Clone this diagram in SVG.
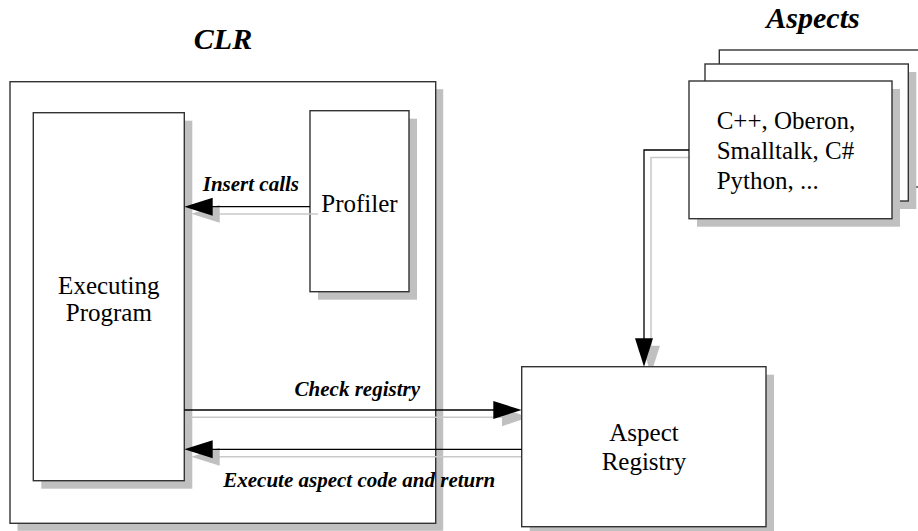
<svg xmlns="http://www.w3.org/2000/svg" width="918" height="531" viewBox="0 0 918 531">
  <style>
    .box { fill: #ffffff; stroke: #333333; stroke-width: 1.4; }
    .shadow { fill: #c0c0c0; stroke: none; }
    .wire { fill: none; stroke: #000000; stroke-width: 1.3; }
    .wire-shadow { fill: none; stroke: #c8c8c8; stroke-width: 1.5; }
    .head { fill: #000000; }
    .head-shadow { fill: #c0c0c0; }
    text { font-family: 'Liberation Serif', Tinos, 'Times New Roman', Times, 'DejaVu Serif', serif; fill: #000; }
    .title { font-weight: bold; font-style: italic; font-size: 30px; text-anchor: middle; }
    .label { font-weight: bold; font-style: italic; font-size: 21px; }
    .txt { font-size: 25px; }
    .mid { text-anchor: middle; }
  </style>

  <rect width="918" height="531" fill="#ffffff"/>

  <!-- titles -->
  <text class="title" x="223" y="49">CLR</text>
  <text class="title" x="813" y="28">Aspects</text>

  <!-- CLR container -->
  <g id="clr">
    <rect class="shadow" x="17.5" y="89.2" width="425.7" height="441.6"/>
    <rect class="box" x="10" y="81.7" width="425.7" height="441.6"/>
  </g>

  <!-- executing program -->
  <g id="executing-program">
    <rect class="shadow" x="41.3" y="120.7" width="151" height="368"/>
    <rect class="box" x="33.3" y="112.7" width="151" height="368"/>
    <text class="txt mid" x="108.8" y="293.5">Executing</text>
    <text class="txt mid" x="108.8" y="320.5">Program</text>
  </g>

  <!-- profiler -->
  <g id="profiler">
    <rect class="shadow" x="318" y="118.7" width="99" height="181"/>
    <rect class="box" x="310" y="110.7" width="99" height="181"/>
    <text class="txt mid" x="359.5" y="211.7" font-size="26">Profiler</text>
  </g>

  <!-- connector shadows -->
  <g id="connector-shadows">
    <path class="wire-shadow" d="M318,214 H219"/>
    <polygon class="head-shadow" points="191.3,213.7 219.7,204.7 219.7,222.7"/>
    <path class="wire-shadow" d="M191,417.3 H502"/>
    <polygon class="head-shadow" points="528.7,417.3 502,408.3 502,426.3"/>
    <path class="wire-shadow" d="M521.7,456.7 H219"/>
    <polygon class="head-shadow" points="191.3,456.7 219.7,447.7 219.7,465.7"/>
    <path class="wire-shadow" d="M689,157.5 H651 V346"/>
    <polygon class="head-shadow" points="651,373.7 642,345.7 660,345.7"/>
  </g>

  <!-- aspect registry -->
  <g id="aspect-registry">
    <rect class="shadow" x="529.7" y="374.7" width="244.3" height="160"/>
    <rect class="box" x="521.7" y="366.7" width="244.3" height="160"/>
    <text class="txt mid" x="644" y="441">Aspect</text>
    <text class="txt mid" x="644" y="469.5">Registry</text>
  </g>

  <!-- aspect sources (stacked sheets) -->
  <g id="aspects">
    <rect class="box" x="719.3" y="50" width="220" height="137"/>
    <rect class="shadow" x="713" y="72" width="203.3" height="137"/>
    <rect class="box" x="705" y="64" width="203.3" height="137"/>
    <rect class="shadow" x="697" y="89" width="203" height="137.7"/>
    <rect class="box" x="689" y="81" width="203" height="137.7"/>
    <text class="txt" x="716.7" y="129.3">C++, Oberon,</text>
    <text class="txt" x="716.7" y="159.3">Smalltalk, C#</text>
    <text class="txt" x="716.7" y="189.3">Python, ...</text>
  </g>

  <!-- connectors -->
  <g id="connectors">
    <path class="wire" d="M310,206.7 H212"/>
    <polygon class="head" points="184.3,206.7 212.7,197.7 212.7,215.7"/>
    <text class="label" x="299" y="190.7" text-anchor="end">Insert calls</text>

    <path class="wire" d="M184.3,410 H495"/>
    <polygon class="head" points="521.7,410 493.3,401 493.3,419"/>
    <text class="label" x="420" y="395.7" text-anchor="end">Check registry</text>

    <path class="wire" d="M521.7,449.3 H212"/>
    <polygon class="head" points="184.3,449.3 212.7,440.3 212.7,458.3"/>
    <text class="label" x="223.3" y="486.7">Execute aspect code and return</text>

    <path class="wire" d="M689,150 H644 V339"/>
    <polygon class="head" points="644,366.7 635,338.3 653,338.3"/>
  </g>
</svg>
